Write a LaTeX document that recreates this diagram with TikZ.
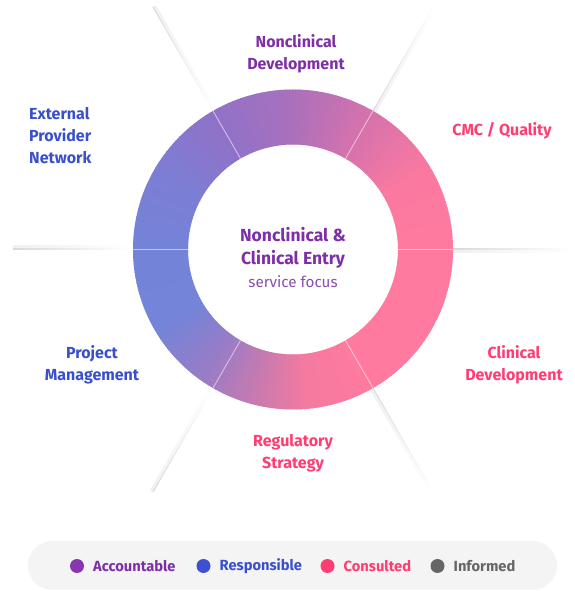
\documentclass[tikz,border=0pt]{standalone}
\usepackage{fontspec}
\setmainfont{Fira Sans}
\usetikzlibrary{calc}
\definecolor{cPur}{HTML}{7E2FA6}
\definecolor{cPurDot}{HTML}{8A35B0}
\definecolor{cPurLight}{HTML}{8A4FB5}
\definecolor{cBlue}{HTML}{3A4FCC}
\definecolor{cBlueDot}{HTML}{3D50D0}
\definecolor{cPink}{HTML}{FF3D72}
\definecolor{cGrey}{HTML}{666666}
\definecolor{cPill}{HTML}{F4F4F4}
% ring stops
\definecolor{s0}{HTML}{FF7A9E}
\definecolor{s30}{HTML}{FA79A0}
\definecolor{s60}{HTML}{D672AC}
\definecolor{s90}{HTML}{AA70BC}
\definecolor{s120}{HTML}{9072C8}
\definecolor{s150}{HTML}{7C7ED4}
\definecolor{s180}{HTML}{7383D8}
\definecolor{s210}{HTML}{7484D8}
\definecolor{s235}{HTML}{9A7CC6}
\definecolor{s255}{HTML}{C87AB0}
\definecolor{s275}{HTML}{F47AA0}
\definecolor{s300}{HTML}{FF7A9E}
\definecolor{s360}{HTML}{FF7A9E}
\tikzset{
  lbl/.style={font=\fontsize{16}{22}\selectfont\bfseries, align=center, inner sep=0pt},
  legtxt/.style={font=\fontsize{14.7}{16}\selectfont\bfseries, anchor=west, inner sep=0pt},
  legdot/.style={circle, minimum size=14pt, inner sep=0pt},
}
\begin{document}
\begin{tikzpicture}[x=1pt,y=1pt]
\useasboundingbox (0,0) rectangle (574,591);
\fill[white] (0,0) rectangle (574,591);
\coordinate (C) at (293,341.5);
\def\Ro{160}
\def\Ri{105}
% separator rays outside ring
\foreach \ang in {0,60,120,180,240,300}{
  \begin{scope}[shift={(C)}, rotate=\ang]
    \shade[left color=black!6, right color=white] (\Ro,-3.5) rectangle (280,0);
    \shade[left color=black!15, right color=white] (\Ro,-0.5) rectangle (280,0.5);
  \end{scope}
}
% conic gradient ring
\begin{scope}[shift={(C)}]
\foreach \aa/\ab/\ca/\cb in {0/30/s0/s30,30/60/s30/s60,60/90/s60/s90,90/120/s90/s120,120/150/s120/s150,150/180/s150/s180,180/210/s180/s210,210/235/s210/s235,235/255/s235/s255,255/275/s255/s275,275/300/s275/s300,300/360/s300/s360}{
  \pgfmathtruncatemacro\nn{\ab-\aa-1}
  \foreach \i in {0,...,\nn}{
    \pgfmathtruncatemacro\pp{100*\i/(\ab-\aa)}
    \pgfmathsetmacro\st{\aa+\i}
    \pgfmathsetmacro\en{\aa+\i+1.4}
    \fill[color=\cb!\pp!\ca] (\st:\Ro) arc[start angle=\st, end angle=\en, radius=\Ro] -- (\en:\Ri) arc[start angle=\en, end angle=\st, radius=\Ri] -- cycle;
  }
}
\foreach \ang in {0,60,120,180,240,300}{
  \draw[white, opacity=0.55, line width=0.9pt] (\ang:\Ri) -- (\ang:\Ro);
}
\end{scope}
% centre text
\node[inner sep=0pt, align=center, text=cPur, font=\fontsize{17.5}{23}\selectfont\bfseries] (ctr) at (293,334)
  {Nonclinical \&\\Clinical Entry\\{\fontsize{15.2}{23}\selectfont\mdseries\color{cPurLight}service focus}};
% labels
\node[lbl, text=cPur] (ncd) at (296,537) {Nonclinical\\Development};
\node[lbl, text=cPink] (cmc) at (502,460) {CMC / Quality};
\node[lbl, text=cPink] (cld) at (514,226.5) {Clinical\\Development};
\node[lbl, text=cPink] (reg) at (293,138) {Regulatory\\Strategy};
\node[lbl, text=cBlue] (pm) at (92,226.5) {Project\\Management};
\node[lbl, text=cBlue, align=left, anchor=west] (epn) at (29,455) {External\\Provider\\Network};
% legend
\node[fill=cPill, rounded corners=24.5pt, minimum width=529pt, minimum height=49pt, inner sep=0pt] (pill) at (292.5,25.5) {};
\node[legdot, fill=cPurDot] (d1) at (77,25) {};
\node[legtxt, text=cPur] (t1) at (93,25) {Accountable};
\node[legdot, fill=cBlueDot] (d2) at (203.5,25) {};
\node[legtxt, text=cBlue] (t2) at (219.5,25) {Responsible};
\node[legdot, fill=cPink] (d3) at (327.5,25) {};
\node[legtxt, text=cPink] (t3) at (343.5,25) {Consulted};
\node[legdot, fill=cGrey] (d4) at (437.5,25) {};
\node[legtxt, text=cGrey] (t4) at (453.5,25) {Informed};
\end{tikzpicture}
\end{document}
